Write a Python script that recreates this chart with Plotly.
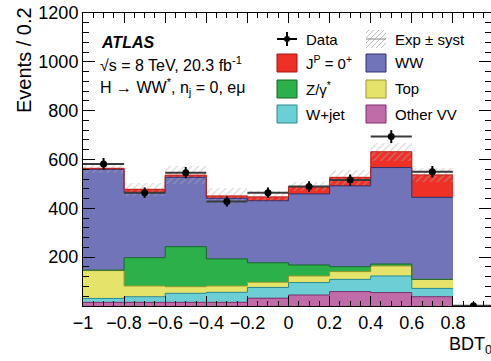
import plotly.graph_objects as go
import math

# ---------------- data ----------------
bin_edges = [-1.0, -0.8, -0.6, -0.4, -0.2, 0.0, 0.2, 0.4, 0.6, 0.8]
bin_centers = [-0.9, -0.7, -0.5, -0.3, -0.1, 0.1, 0.3, 0.5, 0.7]
other_vv = [15, 15, 15, 15, 32, 45, 59, 55, 38]
w_jet = [16, 23, 37, 41, 44, 51, 50, 68, 34]
top = [114, 44, 27, 26, 21, 27, 32, 41, 37]
z_gamma = [2, 116, 164, 111, 80, 45, 20, 8, 0]
ww = [413, 266, 284, 248, 254, 291, 331, 395, 336]
signal = [4, 14, 9, 10, 16, 30, 35, 65, 92]
syst = [21, 27, 38, 31, 23, 20, 30, 37, 28]
data_x = [-0.9, -0.7, -0.5, -0.3, -0.1, 0.1, 0.3, 0.5, 0.7, 0.9]
data_y = [582, 464, 546, 428, 464, 489, 516, 694, 550, 1]

FONT = "Liberation Sans, Arial, sans-serif"

# plot-area geometry in pixels (for annotation placement)
L, R, T, B = 83, 491, 13, 306
def px(x):
    return (x - L) / (R - L)
def py(y):
    return (B - y) / (B - T)

fig = go.Figure()

stack = [
    ("Other VV", other_vv, "#c06ca9", "#7a2f6a"),
    ("W+jet", w_jet, "#6dcfd6", "#2d8a92"),
    ("Top", top, "#e6e36b", "#9c9830"),
    ("Z/γ*", z_gamma, "#2bb04a", "#17692a"),
    ("WW", ww, "#7174b8", "#2f3270"),
    ("J^P=0+", signal, "#ee3027", "#c0201a"),
]
for name, vals, col, lc in stack:
    fig.add_trace(go.Bar(x=bin_centers, y=vals, width=0.2, name=name,
                         marker=dict(color=col, line=dict(width=0))))

# step outlines on the top of each cumulative component
cum = [0] * len(bin_centers)
for name, vals, col, lc in stack:
    cum = [c + v for c, v in zip(cum, vals)]
    fig.add_trace(go.Scatter(x=bin_edges, y=cum + [cum[-1]], mode="lines",
                             line=dict(shape="hv", color=lc, width=1),
                             hoverinfo="skip"))

total = cum
fig.add_trace(go.Bar(
    x=bin_centers, y=[2 * s for s in syst], base=[t - s for t, s in zip(total, syst)],
    width=0.2, name="Exp ± syst",
    marker=dict(color="rgba(0,0,0,0)", line=dict(width=0),
                pattern=dict(shape="/", fgcolor="#b0b0b0", bgcolor="rgba(0,0,0,0)",
                             size=5, solidity=0.25, fillmode="overlay"))))

fig.add_trace(go.Scatter(
    x=data_x, y=data_y, mode="markers", name="Data",
    marker=dict(color="black", size=7),
    error_x=dict(type="constant", value=0.1, color="#3a3a3a", thickness=2, width=0),
    error_y=dict(type="data", array=[math.sqrt(v) for v in data_y], color="black",
                 thickness=2, width=0)))

# ---------------- layout ----------------
fig.update_layout(
    width=491, height=361, autosize=False,
    margin=dict(l=L, r=491 - R, t=T, b=361 - B, pad=0),
    barmode="stack", bargap=0, showlegend=False,
    plot_bgcolor="white", paper_bgcolor="white",
    font=dict(family=FONT, size=16, color="black"),
)
fig.update_xaxes(
    range=[-1, -1 + (R - L) / 205.5], tickmode="linear", tick0=-1, dtick=0.2,
    ticks="inside", ticklen=10, tickwidth=1, tickcolor="black",
    showline=True, linecolor="black", linewidth=1, mirror="allticks",
    showgrid=False, zeroline=False, tickfont=dict(size=18),
    minor=dict(tickmode="linear", tick0=-1, dtick=0.05, ticks="inside", ticklen=5,
               tickcolor="black", showgrid=False),
)
fig.update_yaxes(
    range=[0, 1200], tickmode="array",
    tickvals=[0, 200, 400, 600, 800, 1000, 1200],
    ticktext=["", "200", "400", "600", "800", "1000", "1200"],
    ticks="inside", ticklen=12, tickwidth=1, tickcolor="black",
    showline=True, linecolor="black", linewidth=1, mirror="allticks",
    showgrid=False, zeroline=False, tickfont=dict(size=18),
    minor=dict(tickmode="linear", tick0=0, dtick=40, ticks="inside", ticklen=6,
               tickcolor="black", showgrid=False),
)

ann = []
ann.append(dict(text="Events / 0.2", x=px(24), y=py(5), xref="paper", yref="paper",
                textangle=-90, xanchor="center", yanchor="top", showarrow=False,
                font=dict(size=20)))
ann.append(dict(text="BDT<sub>0</sub>", x=px(447), y=py(345), xref="paper", yref="paper",
                xanchor="left", yanchor="middle", showarrow=False, font=dict(size=18)))
ann.append(dict(text="<b><i>ATLAS</i></b>", x=px(99), y=py(42), xref="paper", yref="paper",
                xanchor="left", yanchor="middle", showarrow=False, font=dict(size=16)))
ann.append(dict(text="√s = 8 TeV, 20.3 fb<sup>-1</sup>", x=px(98), y=py(64), xref="paper",
                yref="paper", xanchor="left", yanchor="middle", showarrow=False,
                font=dict(size=16)))
ann.append(dict(text="H → WW<sup>*</sup>, n<sub>j</sub> = 0, eμ", x=px(98), y=py(87),
                xref="paper", yref="paper", xanchor="left", yanchor="middle",
                showarrow=False, font=dict(size=16)))

shapes = []
# legend
leg = [
    (0, 0, "Data", None, None),
    (1, 0, "Exp ± syst", None, None),
    (0, 1, "J<sup>P</sup> = 0<sup>+</sup>", "#ee3027", "#a01510"),
    (1, 1, "WW", "#7174b8", "#2f3270"),
    (0, 2, "Z/γ<sup>*</sup>", "#2bb04a", "#17692a"),
    (1, 2, "Top", "#e6e36b", "#9c9830"),
    (0, 3, "W+jet", "#6dcfd6", "#2d8a92"),
    (1, 3, "Other VV", "#c06ca9", "#7a2f6a"),
]
col_x = [277, 366]
row_y = [39, 63, 89, 114]
for c, r, label, fc, lc in leg:
    x0 = col_x[c]
    yc = row_y[r]
    ann.append(dict(text=label, x=px(x0 + 27), y=py(yc), xref="paper", yref="paper",
                    xanchor="left", yanchor="middle", showarrow=False,
                    font=dict(size=15)))
    if fc is not None:
        shapes.append(dict(type="rect", xref="paper", yref="paper",
                           x0=px(x0), x1=px(x0 + 20), y0=py(yc + 9), y1=py(yc - 9),
                           fillcolor=fc, line=dict(color=lc, width=1)))
    elif label == "Data":
        shapes.append(dict(type="line", xref="paper", yref="paper",
                           x0=px(x0), x1=px(x0 + 20), y0=py(yc), y1=py(yc),
                           line=dict(color="black", width=2)))
        shapes.append(dict(type="line", xref="paper", yref="paper",
                           x0=px(x0 + 10), x1=px(x0 + 10), y0=py(yc - 7), y1=py(yc + 7),
                           line=dict(color="black", width=2)))
        shapes.append(dict(type="circle", xref="paper", yref="paper",
                           x0=px(x0 + 7), x1=px(x0 + 13), y0=py(yc + 3), y1=py(yc - 3),
                           fillcolor="black", line=dict(color="black", width=0)))
    else:
        for k in range(-3, 5):
            xa = x0 + k * 5
            xs, ys = [xa, xa + 18], [yc + 9, yc - 9]
            if xs[0] < x0:
                d = x0 - xs[0]; xs[0] = x0; ys[0] -= d
            if xs[1] > x0 + 20:
                d = xs[1] - (x0 + 20); xs[1] = x0 + 20; ys[1] += d
            if xs[1] > xs[0]:
                shapes.append(dict(type="line", xref="paper", yref="paper",
                                   x0=px(xs[0]), x1=px(xs[1]), y0=py(ys[0]), y1=py(ys[1]),
                                   line=dict(color="#c0c0c0", width=1)))
        shapes.append(dict(type="line", xref="paper", yref="paper",
                           x0=px(x0), x1=px(x0 + 20), y0=py(yc), y1=py(yc),
                           line=dict(color="#888888", width=1)))

fig.update_layout(annotations=ann, shapes=shapes)
fig.write_html("out.html", config={"displayModeBar": False},
               post_script="document.body.style.margin='0';")
